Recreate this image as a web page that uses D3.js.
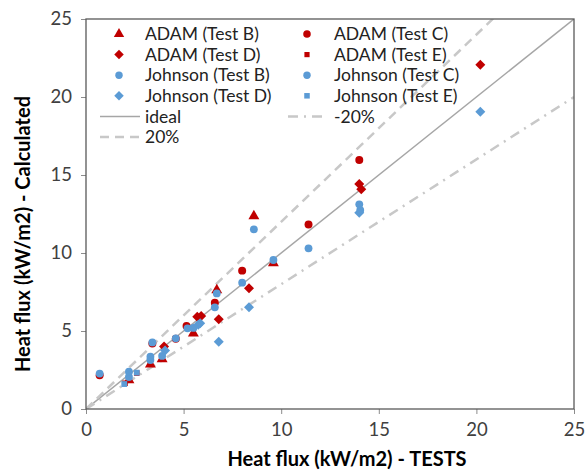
<!DOCTYPE html>
<html><head><meta charset="utf-8">
<script src="https://cdn.jsdelivr.net/npm/d3@7"></script>
<style>body{margin:0;background:#fff}svg{display:block}</style>
</head><body>
<svg id="c" width="587" height="473"></svg>
<script>
// ---- data ----
const ticks = [0, 5, 10, 15, 20, 25];
const adamB_x = [2.2, 3.3, 3.9, 5.5, 6.7, 8.6, 9.6];
const adamB_y = [1.86, 2.86, 3.2, 4.85, 7.63, 12.37, 9.35];
const adamC_x = [0.7, 3.4, 4.6, 5.15, 6.6, 8.0, 11.4, 14.0];
const adamC_y = [2.16, 4.2, 4.5, 5.32, 6.81, 8.87, 11.82, 15.96];
const adamD_x = [4.0, 5.7, 5.9, 6.8, 8.35, 14.0, 14.1, 20.2];
const adamD_y = [4.0, 5.92, 5.96, 5.75, 7.74, 14.42, 14.08, 22.06];
const adamE_x = [2.0, 2.6];
const adamE_y = [1.65, 2.3];
const johB_x = [2.2, 2.2, 3.3, 3.9, 5.5, 6.7, 8.6, 9.6];
const johB_y = [2.05, 2.39, 3.14, 3.4, 5.2, 7.41, 11.52, 9.55];
const johC_x = [0.7, 3.3, 3.4, 4.6, 5.2, 6.6, 8.0, 11.4, 14.0, 14.05];
const johC_y = [2.27, 3.35, 4.27, 4.53, 5.17, 6.52, 8.1, 10.3, 13.12, 12.75];
const johD_x = [4.05, 5.75, 5.85, 6.8, 8.35, 14.0, 20.2];
const johD_y = [3.75, 5.4, 5.5, 4.31, 6.52, 12.58, 19.06];
const johE_x = [1.96, 2.6];
const johE_y = [1.6, 2.33];
const lineX = [0, 25];
const idealFactor = 1.0, plusFactor = 1.2, minusFactor = 0.8;

const RED = "#C00000", BLUE = "#5B9BD5";
const series = [
  {name: "ADAM (Test B)", xs: adamB_x, ys: adamB_y, type: d3.symbolTriangle, size: 52, color: RED, rot: 0},
  {name: "ADAM (Test C)", xs: adamC_x, ys: adamC_y, type: d3.symbolCircle, size: 50, color: RED, rot: 0},
  {name: "ADAM (Test D)", xs: adamD_x, ys: adamD_y, type: d3.symbolSquare, size: 50, color: RED, rot: 45},
  {name: "ADAM (Test E)", xs: adamE_x, ys: adamE_y, type: d3.symbolSquare, size: 30, color: RED, rot: 0},
  {name: "Johnson (Test B)", xs: johB_x, ys: johB_y, type: d3.symbolCircle, size: 48, color: BLUE, rot: 0},
  {name: "Johnson (Test C)", xs: johC_x, ys: johC_y, type: d3.symbolCircle, size: 48, color: BLUE, rot: 0},
  {name: "Johnson (Test D)", xs: johD_x, ys: johD_y, type: d3.symbolSquare, size: 50, color: BLUE, rot: 45},
  {name: "Johnson (Test E)", xs: johE_x, ys: johE_y, type: d3.symbolSquare, size: 34, color: BLUE, rot: 0}
];
const refLines = [
  {name: "ideal", f: idealFactor, dash: null, width: 1.5, color: "#A6A6A6"},
  {name: "-20%", f: minusFactor, dash: "10,6,2,6", width: 2.5, color: "#C8C8C8"},
  {name: "20%", f: plusFactor, dash: "9,6", width: 2.5, color: "#C8C8C8"}
];

const svg = d3.select("#c");
const L = 86, R = 574, T = 19, B = 409;
const x = d3.scaleLinear().domain([0, 25]).range([L, R]);
const y = d3.scaleLinear().domain([0, 25]).range([B, T]);
const FONT = "Lato, 'Open Sans', sans-serif";

svg.append("defs").append("clipPath").attr("id", "clip")
  .append("rect").attr("x", L).attr("y", T).attr("width", R - L).attr("height", B - T);

// axes
const xa = svg.append("g").attr("transform", `translate(0,${B})`)
  .call(d3.axisBottom(x).tickValues(ticks).tickSize(5).tickPadding(9).tickFormat(d3.format("d")));
const ya = svg.append("g").attr("transform", `translate(${L},0)`)
  .call(d3.axisLeft(y).tickValues(ticks).tickSize(5).tickPadding(9).tickFormat(d3.format("d")));
[xa, ya].forEach(a => {
  a.select(".domain").remove();
  a.selectAll(".tick line").attr("stroke", "#8C8C8C");
  a.selectAll(".tick text").attr("fill", "#404040").style("font-family", FONT).style("font-size", "18.5px");
});

// reference lines
const plot = svg.append("g").attr("clip-path", "url(#clip)");
refLines.forEach(r => {
  plot.append("line")
    .attr("x1", x(lineX[0])).attr("y1", y(lineX[0] * r.f))
    .attr("x2", x(lineX[1])).attr("y2", y(lineX[1] * r.f))
    .attr("stroke", r.color).attr("stroke-width", r.width)
    .attr("stroke-dasharray", r.dash);
});

// points
series.forEach(s => {
  const sym = d3.symbol().type(s.type).size(s.size);
  plot.selectAll(null).data(s.xs.map((v, i) => [v, s.ys[i]])).enter()
    .append("path").attr("d", sym)
    .attr("transform", d => `translate(${x(d[0])},${y(d[1])}) rotate(${s.rot})`)
    .attr("fill", s.color);
});

// border
svg.append("rect").attr("x", L).attr("y", T).attr("width", R - L).attr("height", B - T)
  .attr("fill", "none").attr("stroke", "#595959").attr("stroke-width", 1.3);

// legend
const lg = svg.append("g").style("font-family", FONT).style("font-size", "17.5px").attr("fill", "#222");
const col = [{m: 119, t: 145, l1: 100, l2: 140}, {m: 307, t: 334, l1: 288, l2: 322}];
const rowY = i => 34 + i * 20.6;
series.forEach((s, i) => {
  const c = col[i % 2], r = Math.floor(i / 2);
  const sym = d3.symbol().type(s.type).size(s.size * 0.9);
  lg.append("path").attr("d", sym)
    .attr("transform", `translate(${c.m},${rowY(r)}) rotate(${s.rot})`).attr("fill", s.color);
  lg.append("text").attr("x", c.t).attr("y", rowY(r)).attr("dy", "0.35em").text(s.name);
});
refLines.forEach((rl, j) => {
  const i = 8 + j, c = col[i % 2], r = Math.floor(i / 2);
  lg.append("line").attr("x1", c.l1).attr("x2", c.l2).attr("y1", rowY(r)).attr("y2", rowY(r))
    .attr("stroke", rl.color).attr("stroke-width", rl.name === "ideal" ? 1.5 : 2.5)
    .attr("stroke-dasharray", rl.dash);
  lg.append("text").attr("x", c.t).attr("y", rowY(r)).attr("dy", "0.35em").text(rl.name);
});

// axis titles
svg.append("text").attr("x", 347).attr("y", 466).attr("text-anchor", "middle")
  .style("font-family", FONT).style("font-size", "20px").style("font-weight", "bold").attr("fill", "#000")
  .text("Heat flux (kW/m2) - TESTS");
svg.append("text").attr("transform", `translate(30,234) rotate(-90)`).attr("text-anchor", "middle")
  .style("font-family", FONT).style("font-size", "20px").style("font-weight", "bold").attr("fill", "#000")
  .text("Heat flux (kW/m2) - Calculated");
</script>
</body></html>
